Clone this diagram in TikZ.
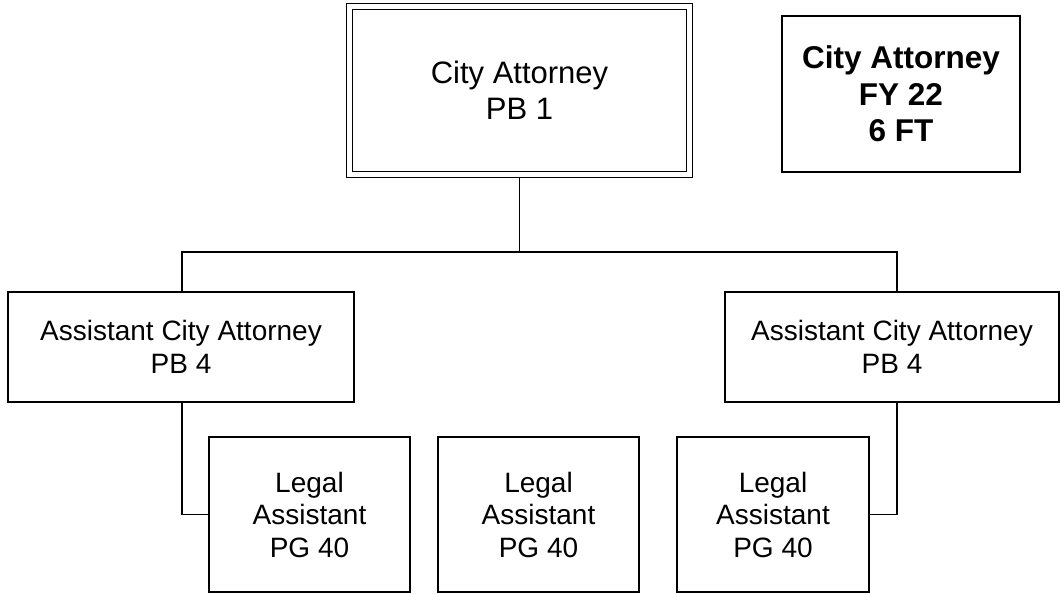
\documentclass[tikz,border=0pt]{standalone}
\usepackage{fontspec}
\setmainfont{Liberation Sans}
\usetikzlibrary{calc}
\begin{document}
\begin{tikzpicture}[x=1pt,y=-1pt,
  box/.style={draw=black, line width=1.2pt, fill=white, inner sep=0pt, align=center, rectangle},
  dbox/.style={box, double=white, double distance=4.8pt},
  ttl/.style={font=\fontsize{31}{36}\selectfont},
  mid/.style={font=\fontsize{28}{32.5}\selectfont},
  bld/.style={font=\fontsize{31.5}{36.5}\selectfont\bfseries},
  conn/.style={draw=black, line width=1.2pt}]
\useasboundingbox (0,0) rectangle (1060,594);
\fill[white] (0,0) rectangle (1060,594);
\node[dbox, ttl, minimum width=339.5pt, minimum height=167.5pt] (top) at (519.5,90.5) {City Attorney\\PB 1};
\node[box, bld, minimum width=238pt, minimum height=156pt] (info) at (901,94) {City Attorney\\FY 22\\6 FT};
\node[box, mid, minimum width=346pt, minimum height=110pt] (aca1) at (181,347) {Assistant City Attorney\\PB 4};
\node[box, mid, minimum width=334pt, minimum height=110pt] (aca2) at (892,347) {Assistant City Attorney\\PB 4};
\node[box, mid, minimum width=201pt, minimum height=155pt] (la1) at (309.5,514.5) {Legal\\Assistant\\PG 40};
\node[box, mid, minimum width=201pt, minimum height=155pt] (la2) at (538.5,514.5) {Legal\\Assistant\\PG 40};
\node[box, mid, minimum width=192pt, minimum height=155pt] (la3) at (773,514.5) {Legal\\Assistant\\PG 40};
\coordinate (bL) at (182,252);
\coordinate (bR) at (897,252);
\draw[conn] ([yshift=-3pt]top.south) -- (top.south |- bL);
\draw[conn] (aca1.north -| bL) -- (bL) -- (bR) -- (aca2.north -| bR);
\draw[conn] (aca1.south -| bL) |- (la1.west);
\draw[conn] (aca2.south -| bR) |- (la3.east);
\end{tikzpicture}
\end{document}
